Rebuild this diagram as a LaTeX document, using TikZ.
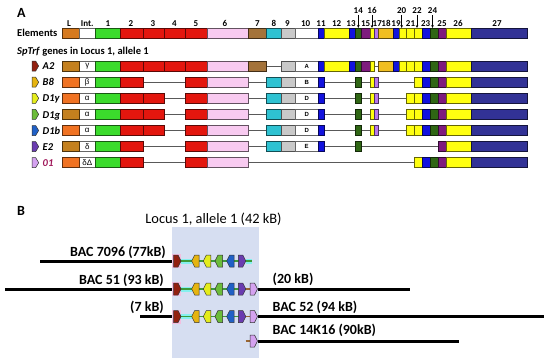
\documentclass[tikz,border=0pt]{standalone}
\usepackage{fontspec}
\setmainfont{Carlito}
\newfontfamily\grk{Liberation Sans}
\usetikzlibrary{arrows.meta}
\definecolor{cOrg}{HTML}{D67A1F}
\definecolor{cOrA}{HTML}{C4801E}
\definecolor{cOrB}{HTML}{F07222}
\definecolor{cGrn}{HTML}{3BDB2C}
\definecolor{cRed}{HTML}{E3160E}
\definecolor{cPnk}{HTML}{F8CAF0}
\definecolor{cBrn}{HTML}{A4733A}
\definecolor{cCyn}{HTML}{2EC2D2}
\definecolor{cGry}{HTML}{C9C9C9}
\definecolor{cBlu}{HTML}{1212DE}
\definecolor{cYlw}{HTML}{FFFF10}
\definecolor{cDgr}{HTML}{2F6614}
\definecolor{cPur}{HTML}{7E1C7E}
\definecolor{cLil}{HTML}{B878EC}
\definecolor{cGld}{HTML}{F0BE22}
\definecolor{cInd}{HTML}{323296}
\definecolor{cWht}{HTML}{FFFFFF}
\definecolor{cMag}{HTML}{A0185A}
\definecolor{gA}{HTML}{922010}
\definecolor{gB}{HTML}{E6B410}
\definecolor{gC}{HTML}{E4EC1C}
\definecolor{gD}{HTML}{6CBC3A}
\definecolor{gE}{HTML}{2060C6}
\definecolor{gF}{HTML}{6A3CB0}
\definecolor{gG}{HTML}{D4A2F0}
\definecolor{locus}{HTML}{D6DEF1}
\definecolor{pinkbg}{HTML}{F3BEDF}
\definecolor{cyanbg}{HTML}{86F0EE}
\definecolor{locgrn}{HTML}{3D9B3A}
\newcommand{\genR}[3]{\draw[garrow, fill=#3] (#1,#2-6) -- ++(4.5,0) -- ++(3,6) -- ++(-3,6) -- ++(-4.5,0) -- cycle;}
\newcommand{\genL}[3]{\draw[garrow, fill=#3] (#1+7.5,#2-6) -- ++(-4.5,0) -- ++(-3,6) -- ++(3,6) -- ++(4.5,0) -- cycle;}
\begin{document}
\begin{tikzpicture}[x=1pt, y=-1pt,
  el/.style={fill=#1, draw=#1!40!black, line width=0.7pt},
  elab/.style={font=\bfseries\fontsize{9}{10}\selectfont, inner sep=0pt, anchor=base},
  head/.style={font=\bfseries\fontsize{10.5}{12}\selectfont, inner sep=0pt, anchor=base west},
  gname/.style={font=\bfseries\itshape\fontsize{10.5}{12}\selectfont, inner sep=0pt, anchor=base west},
  itxt/.style={font=\grk\fontsize{8}{9}\selectfont, inner sep=0pt},
  ttxt/.style={font=\grk\bfseries\fontsize{6}{7}\selectfont, inner sep=0pt},
  panel/.style={font=\bfseries\fontsize{14}{16}\selectfont, inner sep=0pt, anchor=base west},
  blab/.style={font=\bfseries\fontsize{14}{16}\selectfont, inner sep=0pt},
  bac/.style={line width=3pt},
  garrow/.style={draw=black!80, line width=0.5pt},
  locline/.style={locgrn, line width=1.8pt},
  tick/.style={-{Stealth[length=3pt,width=2.6pt]}, line width=0.6pt, shorten <=1pt}]
\useasboundingbox (0,0) rectangle (550,364);

\node[panel] (pA) at (17,17) {A};
\node[head] (elm) at (17,36.3) {Elements};
\node[head] (sub) at (17,54.5) {\textit{SpTrf} genes in Locus 1, allele 1};

\foreach \n/\a/\b/\c/\lx/\ly/\t in {L/62.7/79/cOrg/69/26.3/L, Int/79/95.7/cWht/87.3/26.3/Int.,
  1/95.7/120.7/cGrn/108/26.3/1, 2/120.7/143.3/cRed/131/26.3/2, 3/143.3/164.3/cRed/153/26.3/3,
  4/164.3/185.7/cRed/174.5/26.3/4, 5/185.7/207.7/cRed/196/26.3/5, 6/207.7/248.3/cPnk/225/26.3/6,
  7/248.3/266.7/cBrn/257.5/26.3/7, 8/266.7/281.7/cCyn/274/26.3/8, 9/281.7/295/cGry/287.5/26.3/9,
  10/295/318.3/cWht/305.7/26.3/10, 11/318.3/324.3/cBlu/321/26.3/11, 12/324.3/349.3/cYlw/336.7/26.3/12,
  13/349.3/355.7/cBlu/351/26.3/13, 14/355.7/361/cDgr/358.3/13.7/14, 15/361/370.7/cPur/365.7/26.3/15,
  16/370.7/374/cYlw/372/13.7/16, 17/374/378.3/cLil/377.3/26.3/17, 18/378.3/393/cGld/386/26.3/18,
  19/393/399/cBlu/396/26.3/19, 20/399/406.7/cYlw/401.7/13.7/20, 21/406.7/414.3/cYlw/410.5/26.3/21,
  22/414.3/422.3/cYlw/417/13.7/22, 23/422.3/430.7/cBlu/425.7/26.3/23, 24/430.7/438.3/cDgr/432.5/13.7/24,
  25/438.3/446.7/cPur/442/26.3/25, 26/446.7/471.7/cYlw/458/26.3/26, 27/471.7/527.3/cInd/497/26.3/27}{
  \coordinate (l\n) at (\a,28);
  \coordinate (r\n) at (\b,38);
  \xglobal\colorlet{e\n}{\c}
  \draw[el=e\n] (l\n) rectangle (r\n);
  \node[elab] (t\n) at (\lx,\ly) {\t};
}
\foreach \n in {14,16,20,22,24}
  \draw[tick] (t\n.south) -- (t\n.south |- l\n);

\foreach \y/\lst in {66/{L,Int,1,2,3,4,5,6,7,9,10,11,12,13,14,15,16,18,19,20,21,22,23,24,25,26,27},
  82.2/{L,Int,1,2,5,6,8,9,10,11,14,16,17,22,23,24,25,26,27},
  98.3/{L,Int,1,2,3,5,6,8,9,10,11,14,16,17,21,22,23,24,25,26,27},
  114.4/{L,Int,1,2,3,5,6,8,9,10,11,14,16,17,21,22,23,24,25,26,27},
  130.5/{L,Int,1,2,3,5,6,8,9,10,11,14,16,17,21,22,23,24,25,26,27},
  146.6/{L,Int,1,2,5,6,8,9,10,11,14,25,26,27},
  162.7/{L,Int,1,2,5,6,22,23,24,25,26,27}}{
  \draw[black!65, line width=0.8pt] (lL |- 0,\y) -- (r27 |- 0,\y);
  \foreach \n in \lst
    \draw[el=e\n] (l\n |- 0,\y-5) rectangle (r\n |- 0,\y+5);
}

\foreach \y/\gn/\gc/\lc/\gi/\gt/\tc in {66/A2/gA/cOrA/γ/A/black, 82.2/B8/gB/cOrB/β/B/black,
  98.3/D1y/gC/cOrB/α/D/black, 114.4/D1g/gD/cOrA/α/D/black, 130.5/D1b/gE/cOrB/α/D/black,
  146.6/E2/gF/cOrA/δ/E/black, 162.7/01/gG/cOrB/δΔ//cMag}{
  \draw[el=\lc] (lL |- 0,\y-5) rectangle (rL |- 0,\y+5);
  \draw[garrow, fill=\gc] (32,\y-5) -- (35.7,\y-5) -- (38.7,\y) -- (35.7,\y+5) -- (32,\y+5) -- cycle;
  \node[gname, text=\tc] (n\gn) at (42.5,\y+3.6) {\gn};
  \node[itxt] (i\gn) at (87.3,\y) {\gi};
  \node[ttxt] (x\gn) at (306.7,\y) {\gt};
}

\node[panel] (pB) at (17,215) {B};
\fill[locus] (172.3,226.7) rectangle (259.3,357.7);
\node[font=\fontsize{14.4}{16}\selectfont, inner sep=0pt, anchor=base] (loc) at (213.5,223) {Locus 1, allele 1 (42 kB)};

\coordinate (s1) at (40,261);     \coordinate (e1) at (173.5,261);
\coordinate (s2) at (5,289);      \coordinate (e2) at (173.5,289);
\coordinate (s3) at (140,316.5);  \coordinate (e3) at (173.5,316.5);
\coordinate (f2) at (257.5,289);  \coordinate (g2) at (409.5,289);
\coordinate (f3) at (257.5,316.5);\coordinate (g3) at (543.5,316.5);
\coordinate (f4) at (257.5,341);  \coordinate (g4) at (458.5,341);
\foreach \s/\e in {s1/e1,s2/e2,s3/e3,f2/g2,f3/g3,f4/g4}
  \draw[bac] (\s) -- (\e);

\node[blab, anchor=base east] (b7096) at (166,256.5) {BAC 7096 (77kB)};
\node[blab, anchor=base east] (b51) at (164,284.5) {BAC 51 (93 kB)};
\node[blab, anchor=base east] (k7) at (164,311) {(7 kB)};
\node[blab, anchor=base west] (k20) at (272.5,283.5) {(20 kB)};
\node[blab, anchor=base west] (b52) at (272.5,311.5) {BAC 52 (94 kB)};
\node[blab, anchor=base west] (b14) at (272.5,334) {BAC 14K16 (90kB)};

\foreach \y in {261,289,316.5}{
  \fill[pinkbg] (172.3,\y-7) rectangle (181,\y+7);
  \fill[cyanbg] (181,\y-2.5) rectangle (192,\y+2.5);
  \draw[locline] (178,\y) -- (246,\y);
  \genR{173.5}{\y}{gA}
  \genL{191.7}{\y}{gB}
  \genL{203.3}{\y}{gC}
  \genL{215}{\y}{gD}
  \genL{226.7}{\y}{gE}
  \genR{238.3}{\y}{gF}
}
\fill[cyanbg] (245.5,258.5) rectangle (252,263.5);
\draw[locline] (245.5,261) -- (252,261);
\foreach \y in {289,316.5,341}{
  \draw[brown!80!black, line width=1.8pt] (245.5,\y) -- (250.5,\y);
  \genR{250}{\y}{gG}
}
\end{tikzpicture}
\end{document}
